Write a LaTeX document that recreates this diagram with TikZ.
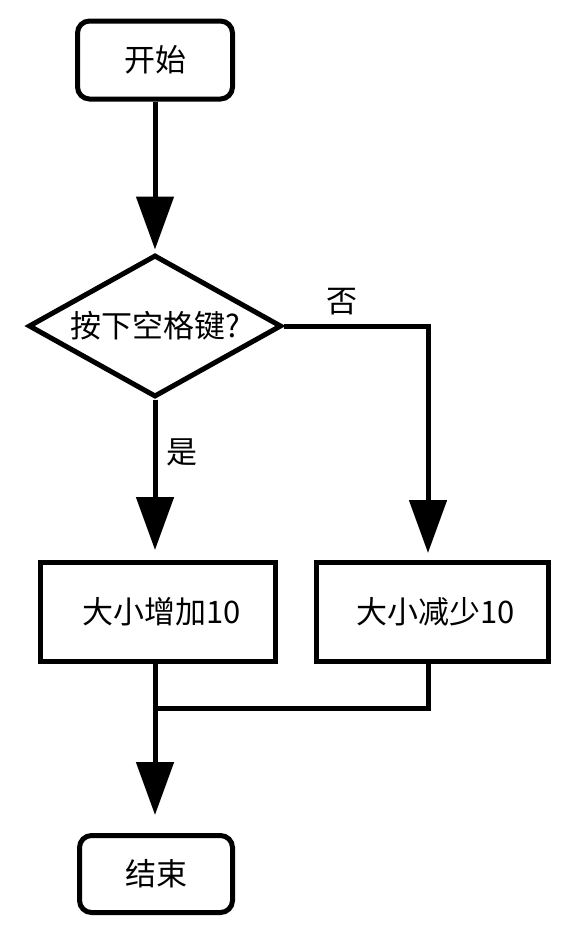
\documentclass[tikz,border=0pt]{standalone}
\usepackage{fontspec}
\setmainfont{Noto Sans CJK SC}
\usetikzlibrary{arrows.meta,shapes.geometric}
\tikzset{
  box/.style={draw,line width=5pt,rectangle,inner sep=0pt},
  term/.style={box,rounded corners=12pt},
  flow/.style={line width=5pt,-{Triangle[length=53pt,width=37pt]}},
  link/.style={line width=5pt}
}
\begin{document}
\begin{tikzpicture}[x=1pt,y=-1pt,font=\fontsize{31}{36}\selectfont]
            \useasboundingbox (0,0) rectangle (584,932);
            \node[term, minimum width=155pt, minimum height=78pt] (start) at (155,60) {开始};
            \node[draw, line width=5pt, diamond, aspect=1.78, inner sep=0pt, minimum width=253pt, minimum height=142pt] (ask) at (155,326) {按下空格键?};
            \node[box, minimum width=235pt, minimum height=99pt] (grow) at (158,612) {\ 大小增加10};
            \node[box, minimum width=232pt, minimum height=99pt] (shrink) at (432,612) {\ 大小减少10};
            \node[term, minimum width=153pt, minimum height=77pt] (stop) at (156,874) {结束};
            \node (no) at (342,302) {否};
            \node (yes) at (182,452) {是};
            \coordinate (join) at (155,708);
            \draw[flow, shorten >=3pt] (start.south) -- (ask.north);
            \draw[flow, shorten >=10pt] (ask.south) -- (grow.north -| ask.south);
            \draw[flow, shorten >=10pt] (ask.east) -| (428,563);
            \draw[link] (grow.south -| join) -- (join);
            \draw[link] (428,662) |- (join);
            \draw[flow, shorten >=18pt] (join) -- (stop.north -| join);
        \end{tikzpicture}
\end{document}
